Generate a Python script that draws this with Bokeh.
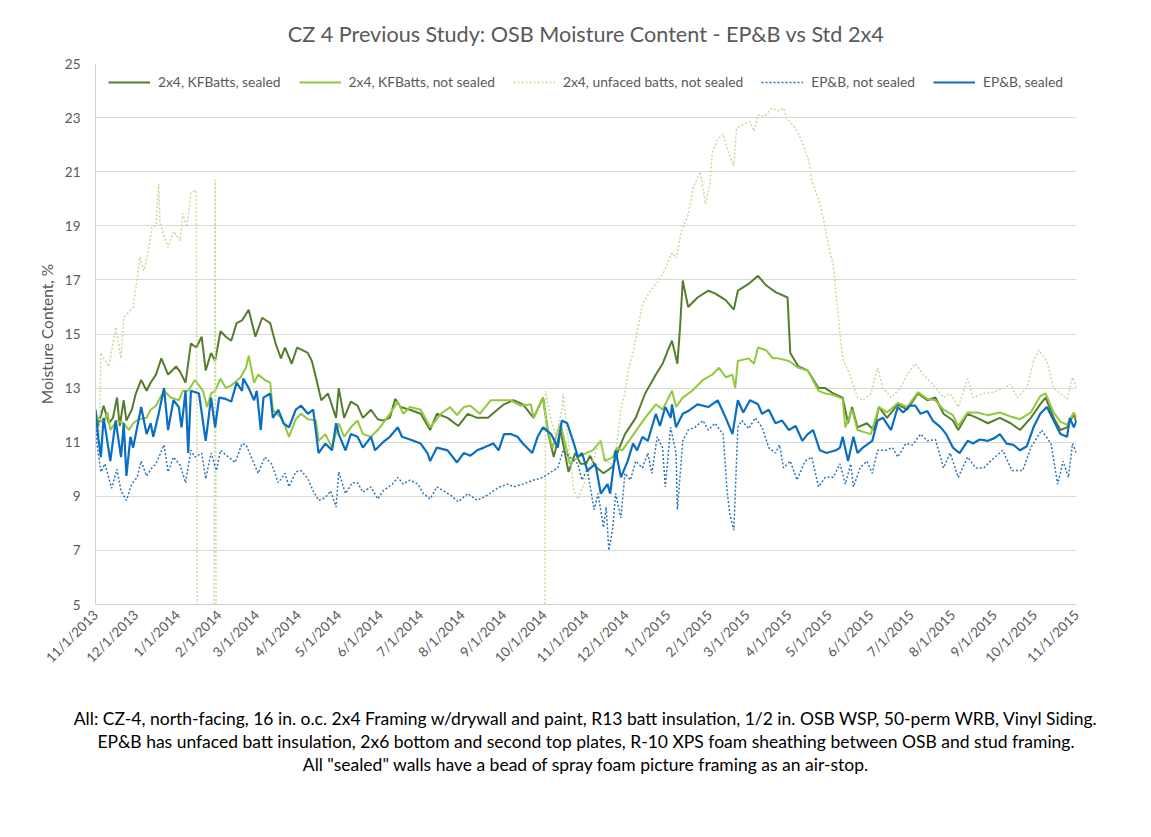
import math
import datetime as dt
from bokeh.plotting import figure
from bokeh.models import Range1d, FixedTicker, Legend, LegendItem, Title
from bokeh.embed import file_html
from bokeh.resources import INLINE

# ---------------- data ----------------
start_date = dt.date(2013, 11, 1)

tick_labels = ["11/1/2013", "12/1/2013", "1/1/2014", "2/1/2014", "3/1/2014", "4/1/2014",
               "5/1/2014", "6/1/2014", "7/1/2014", "8/1/2014", "9/1/2014", "10/1/2014",
               "11/1/2014", "12/1/2014", "1/1/2015", "2/1/2015", "3/1/2015", "4/1/2015",
               "5/1/2015", "6/1/2015", "7/1/2015", "8/1/2015", "9/1/2015", "10/1/2015",
               "11/1/2015"]
y_ticks = [5, 7, 9, 11, 13, 15, 17, 19, 21, 23, 25]

# days since 11/1/2013, moisture content %
kf_sealed_day = [0,2,6,10,13,16,18,21,23,27, 30,34,38,41,45,49,54,60,63,67,
                 71,75,79,82,86,89,93,97,101,105, 109,114,117,119,124,127,130,134,138,141,
                 146,150,154,158,161,164,168,173,179,181, 185,190,195,199,205,210,214,219,223,227,
                 234,242,249,254,262,270,277,284,292,299, 304,311,318,326,333,337,341,346,352,357,
                 361,365,368,372,378,385,389,394,402,409, 417,422,426,429,433,435,437,441,448,456,
                 461,469,475,478,486,493,499,506,515,517, 523,530,538,543,549,556,560,563,567,574,
                 579,583,589,597,604,612,619,625,631,638, 642,649,656,664,673,681,688,696,703,707,
                 713,718,723,728,730]
kf_sealed_mc = [12.2,11.6,12.35,11.7,11.9,12.65,11.6,12.55,11.8,12.2, 12.8,13.3,12.9,13.2,13.5,14.1,13.5,13.8,13.6,13.2,
                14.65,14.5,14.9,13.65,14.3,14.0,15.1,14.9,14.75,15.4, 15.5,15.9,15.3,14.9,15.6,15.5,15.4,14.65,14.1,14.5,
                13.9,14.5,14.4,14.3,14.0,13.4,12.55,12.8,11.9,13.0, 11.9,12.5,12.35,11.9,12.2,11.85,11.8,11.9,12.6,12.3,
                12.2,12.05,11.45,12.05,11.9,11.6,12.05,11.9,11.9,12.2, 12.4,12.55,12.4,11.9,12.65,11.3,10.45,11.45,9.9,10.6,
                10.2,10.2,10.5,10.1,9.85,10.1,10.7,11.3,11.9,12.8, 13.5,13.9,14.4,14.75,13.9,15.25,16.98,16.0,16.35,16.6,
                16.5,16.25,15.9,16.6,16.85,17.15,16.8,16.55,16.35,14.3, 13.8,13.65,13.0,13.0,12.8,12.65,11.7,12.3,11.55,11.7,
                11.45,12.3,11.9,12.4,12.2,12.8,12.55,12.65,12.05,11.8, 11.45,12.05,11.9,11.7,11.9,11.7,11.45,11.9,12.4,12.65,
                11.9,11.45,11.55,12.05,11.7]

kf_open_day = [0,6,9,11,16,21,25,28,32,38, 41,45,51,56,62,65,69,74,80,83,
               86,89,93,97,101,108,112,114,118,121, 126,130,132,138,141,144,149,153,158,164,
               166,171,176,181,185,190,195,199,205,210, 214,219,225,229,234,242,249,257,264,269,
               274,279,286,294,301,309,316,324,326,333, 336,340,346,353,359,365,370,376,379,385,
               388,392,397,404,409,417,422,429,432,437, 444,452,459,464,469,474,476,478,486,490,
               493,499,504,508,516,523,530,538,543,549, 556,558,563,567,577,583,589,597,604,612,
               619,625,631,638,642,649,656,664,673,681, 688,696,703,707,713,718,723,728,730]
kf_open_mc = [12.0,11.7,12.1,11.45,11.8,11.7,11.45,11.7,11.85,11.9, 12.2,12.35,12.9,12.65,12.55,12.9,12.9,13.3,12.9,12.3,
              12.8,12.9,13.35,13.0,13.1,13.4,13.75,14.2,13.2,13.5, 13.3,13.2,12.2,11.9,11.6,11.2,11.85,12.05,11.85,11.8,
              11.05,11.3,10.8,11.7,11.2,11.55,11.8,11.3,11.2,11.45, 11.7,12.05,12.5,12.05,12.3,12.2,11.55,12.05,12.3,12.0,
              12.3,12.35,12.05,12.55,12.55,12.55,12.35,12.4,11.9,12.65, 11.55,10.8,11.7,10.2,10.45,10.6,10.7,11.05,10.3,10.45,
              10.8,10.7,11.05,11.55,11.9,12.4,12.2,12.9,12.3,12.65, 12.9,13.3,13.5,13.75,13.4,13.5,13.0,14.0,14.1,13.9,
              14.5,14.4,14.1,14.1,14.0,13.75,13.65,12.9,12.8,12.75, 12.6,11.55,12.2,11.45,11.3,12.3,12.1,12.45,12.3,12.85,
              12.6,12.55,12.2,12.0,11.6,12.1,12.1,12.0,12.1,11.95, 11.85,12.1,12.7,12.8,12.1,11.75,11.65,12.1,11.9]

unfaced_day = [0,3,4,6,10,15,19,21,28,31, 33,36,39,42,45,47,48,54,58,63,
               65,68,71,74,75,76,88,89,90,334, 335,339,343,347,348,352,356,359,365,370,
               375,377,382,386,391,394,397,400,407,413, 418,423,429,432,436,441,445,450,454,457,
               459,463,467,471,475,477,482,487,490,493, 498,503,508,512,514,521,526,531,533,539,
               542,546,549,551,554,556,562,567,571,577, 582,586,592,599,604,610,616,623,631,636,
               642,649,653,661,668,676,681,686,693,698, 702,708,713,718,723,727,730]
unfaced_mc = [12.2,11.2,14.3,14.1,13.8,15.25,14.1,15.6,16.0,17.0, 17.85,17.35,17.95,18.95,19.0,20.55,19.1,18.2,18.8,18.45,
              19.45,18.95,20.2,20.3,20.3,0,0,20.7,0,0, 12.9,11.8,11.2,12.2,12.8,10.95,9.2,8.9,9.65,10.3,
              11.05,10.7,10.2,10.2,12.2,12.85,13.8,14.3,16.1,16.6, 16.9,17.3,18.0,17.8,18.8,19.4,20.45,21.0,19.8,20.45,
              21.7,22.2,22.4,21.7,21.2,22.6,22.75,22.85,22.5,23.1, 23.05,23.35,23.25,23.35,23.0,22.6,22.1,21.35,20.7,19.8,
              19.2,18.15,17.55,16.5,15.0,14.1,13.4,12.65,12.55,12.8, 13.75,13.0,12.65,13.0,13.5,13.9,13.5,13.15,12.65,12.8,
              12.3,13.35,12.65,12.8,12.85,13.0,13.15,12.65,13.0,14.0, 14.4,14.0,13.0,12.8,12.6,13.4,13.0]

epb_open_day = [0,1,4,7,12,16,19,23,27,31, 34,38,42,45,51,54,58,63,67,71,
                74,79,82,86,90,93,99,104,109,112, 116,121,126,131,136,141,144,149,153,158,
                162,166,171,175,179,181,186,191,195,199, 205,210,214,221,225,229,234,240,244,249,
                254,259,264,270,277,284,292,296,301,307, 311,318,326,333,339,344,348,353,359,362,
                366,371,374,378,380,382,385,387,391,394, 398,402,407,411,414,418,422,424,428,432,
                433,437,441,446,452,456,461,467,470,472, 475,478,481,486,491,496,501,506,509,512,
                517,522,528,533,538,543,549,554,558,562, 564,569,574,578,582,588,593,597,603,608,
                614,619,625,631,636,642,649,655,661,666, 675,682,690,696,704,711,716,720,724,727,
                730]
epb_open_mc = [12.2,10.95,9.9,10.2,9.3,10.0,9.2,8.85,9.45,9.7, 10.3,9.75,10.05,10.2,10.9,9.9,10.45,10.15,9.5,10.7,
               10.45,10.6,9.65,10.6,9.95,10.7,10.45,10.25,10.95,10.9, 10.45,9.85,10.45,10.2,9.5,9.85,9.35,9.9,9.95,9.65,
               9.2,8.85,8.95,9.2,8.6,9.9,9.1,9.5,9.5,9.15, 9.35,8.9,9.2,9.45,9.7,9.45,9.6,9.45,9.1,8.9,
               9.35,9.2,9.05,8.8,9.1,8.85,9.05,9.2,9.35,9.45, 9.35,9.45,9.6,9.7,9.9,10.05,10.7,10.45,10.2,9.6,
               10.0,8.5,9.1,7.85,8.6,7.0,7.85,9.1,8.2,9.85, 9.6,10.3,10.05,10.6,9.85,11.2,10.8,9.35,11.55,10.6,
               8.5,11.05,11.45,11.55,11.8,11.45,11.7,11.3,9.2,8.35, 7.75,11.55,11.8,11.5,11.9,11.55,10.8,10.6,10.9,10.05,
               10.3,9.6,10.3,10.45,9.35,9.7,9.7,10.2,9.45,10.2, 9.35,10.05,10.3,9.85,10.7,10.7,10.8,10.45,10.95,10.9,
               11.3,11.05,11.1,10.05,10.6,9.7,10.45,10.05,10.05,10.3, 10.7,9.95,9.95,10.8,11.45,10.95,9.45,10.3,9.7,10.95,
               10.6]

epb_sealed_day = [0,2,4,6,8,11,15,19,21,23, 26,28,32,34,38,41,43,47,51,54,
                  58,62,64,67,69,71,77,82,86,89, 92,97,101,105,109,110,114,118,120,123,
                  125,130,132,136,140,144,149,153,158,162, 166,171,176,179,181,186,190,195,199,205,
                  208,214,219,225,228,234,242,247,249,254, 262,269,274,279,284,289,296,300,304,309,
                  314,318,325,329,333,339,344,347,351,356, 359,362,366,372,376,381,383,387,391,396,
                  400,403,407,411,417,420,424,428,429,432, 437,441,448,456,463,469,474,478,482,487,
                  493,496,501,506,511,516,521,526,530,534, 539,544,551,554,556,560,564,567,571,578,
                  582,586,592,597,601,606,610,614,619,623, 629,633,638,643,649,653,658,664,669,673,
                  678,683,688,693,698,703,708,713,718,723, 725,728,730]
epb_sealed_mc = [12.15,11.2,10.45,11.9,11.3,10.3,11.8,10.45,11.7,9.75, 11.2,10.8,11.8,12.3,11.3,11.7,11.2,12.05,13.0,11.45,
                 12.55,12.3,11.55,12.9,10.6,12.9,12.8,11.05,12.65,11.55, 12.65,12.6,12.5,13.2,12.9,13.35,13.0,12.55,12.9,11.45,
                 12.65,12.8,11.9,12.2,11.7,11.55,12.2,12.35,12.05,12.2, 10.6,10.95,10.7,11.7,11.3,10.7,11.3,11.2,10.8,11.2,
                 10.7,11.0,11.2,11.55,11.2,11.1,10.95,10.6,10.3,10.8, 10.7,10.25,10.6,10.5,10.7,10.8,10.95,10.7,11.3,11.3,
                 11.2,10.95,10.6,11.2,11.55,11.3,10.8,11.8,11.7,10.95, 10.45,10.6,9.95,10.2,9.1,9.45,9.1,10.7,9.7,10.3,
                 10.95,10.7,11.2,11.05,12.05,11.6,12.3,11.9,12.4,11.55, 12.05,12.15,12.4,12.3,12.55,11.9,11.3,12.55,12.1,12.55,
                 12.4,12.05,12.2,11.7,11.8,11.45,11.6,11.05,11.3,11.45, 10.7,10.6,10.7,10.8,11.2,10.3,11.2,10.6,10.8,11.05,
                 11.8,11.9,11.45,12.3,12.1,12.35,12.35,12.05,12.15,11.8, 11.55,11.3,10.8,10.6,11.05,10.95,11.1,11.05,11.15,11.3,
                 10.95,10.9,10.7,10.85,11.55,12.05,12.3,11.8,11.3,11.2, 11.9,11.55,11.8]

series_names = ["2x4, KFBatts, sealed", "2x4, KFBatts, not sealed",
                "2x4, unfaced batts, not sealed", "EP&B, not sealed", "EP&B, sealed"]

title_text = "CZ 4 Previous Study: OSB Moisture Content - EP&B vs Std 2x4"
notes = ["All: CZ-4, north-facing, 16 in. o.c. 2x4 Framing w/drywall and paint, R13 batt insulation, 1/2 in. OSB WSP, 50-perm WRB, Vinyl Siding.",
         "EP&B has unfaced batt insulation, 2x6 bottom and second top plates, R-10 XPS foam sheathing between OSB and stud framing.",
         "All \"sealed\" walls have a bead of spray foam picture framing as an air-stop."]

# ---------------- plot ----------------
def to_day(s):
    m, d, y = (int(v) for v in s.split("/"))
    return (dt.date(y, m, d) - start_date).days

tick_days = [to_day(s) for s in tick_labels]

FONT = "Lato"
GRAY = "#595959"

p = figure(width=1151, height=837, output_backend="svg", toolbar_location=None,
           title=title_text,
           x_range=Range1d(0, tick_days[-1]), y_range=Range1d(y_ticks[0], y_ticks[-1]),
           min_border_left=95, min_border_right=75, min_border_top=63, min_border_bottom=233)
p.title.align = "center"
p.title.text_font = FONT
p.title.text_font_size = "21.6px"
p.title.text_font_style = "normal"
p.title.text_color = GRAY
p.title.standoff = 34

# spacer between the date labels and the footnotes
p.add_layout(Title(text=" ", text_font_size="1px", standoff=28), "below")
# footnotes, stacked below the x axis
for line in notes:
    p.add_layout(Title(text=line, align="center", text_font=FONT, text_font_size="17.5px",
                       text_font_style="normal", text_color="black", standoff=0), "below")

p.outline_line_color = None
p.background_fill_color = "white"
p.border_fill_color = "white"
p.xgrid.visible = False
p.ygrid.grid_line_color = "#d9d9d9"
p.ygrid.grid_line_width = 1

p.yaxis.ticker = FixedTicker(ticks=y_ticks)
p.xaxis.ticker = FixedTicker(ticks=tick_days)
p.xaxis.major_label_overrides = {d: s for d, s in zip(tick_days, tick_labels)}
p.xaxis.major_label_orientation = math.pi / 4
for ax in (p.xaxis, p.yaxis):
    ax.axis_line_color = "#d0d0d0"
    ax.major_tick_line_color = None
    ax.minor_tick_line_color = None
    ax.major_tick_out = 0
    ax.major_tick_in = 0
    ax.major_label_text_font = FONT
    ax.major_label_text_font_size = "13.5px"
    ax.major_label_text_color = GRAY
p.yaxis.major_label_standoff = 15
p.xaxis.major_label_standoff = 8
p.yaxis.axis_label = "Moisture Content, %"
p.yaxis.axis_label_text_font = FONT
p.yaxis.axis_label_text_font_size = "15.5px"
p.yaxis.axis_label_text_font_style = "normal"
p.yaxis.axis_label_text_color = GRAY
p.yaxis.axis_label_standoff = 6

r1 = p.line(kf_sealed_day, kf_sealed_mc, line_color="#567d2e", line_width=2)
r2 = p.line(kf_open_day, kf_open_mc, line_color="#92c83e", line_width=2)
r3 = p.line(unfaced_day, unfaced_mc, line_color="#c9d99a", line_width=1.5, line_dash="2 2")
r4 = p.line(epb_open_day, epb_open_mc, line_color="#2e75b6", line_width=1.5, line_dash="2 2")
r5 = p.line(epb_sealed_day, epb_sealed_mc, line_color="#0a6fc2", line_width=2.2)

legend = Legend(items=[LegendItem(label=n, renderers=[r]) for n, r in
                       zip(series_names, [r1, r2, r3, r4, r5])],
                orientation="horizontal", location=(8, 509),
                glyph_width=42, glyph_height=16, label_standoff=8, spacing=18,
                padding=5, margin=0, border_line_alpha=0, background_fill_alpha=0,
                label_text_font=FONT, label_text_font_size="13.8px", label_text_color=GRAY)
p.add_layout(legend)

open("out.html", "w").write(file_html(p, INLINE))
